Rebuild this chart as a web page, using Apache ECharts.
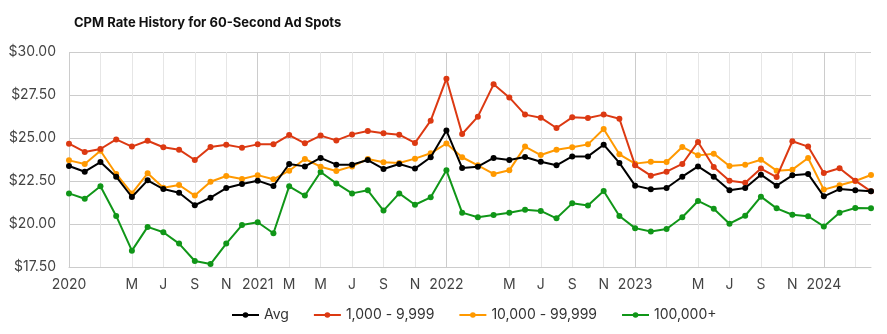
<!DOCTYPE html>
<html>
<head>
<meta charset="utf-8">
<script src="https://cdn.jsdelivr.net/npm/echarts@6/dist/echarts.min.js"></script>
<style>
html,body{margin:0;padding:0;background:#fff;}
#chart{width:887px;height:334px;}
</style>
</head>
<body>
<div id="chart"></div>
<script>
const categories = [
 '2020-01','2020-02','2020-03','2020-04','2020-05','2020-06','2020-07','2020-08','2020-09','2020-10','2020-11','2020-12',
 '2021-01','2021-02','2021-03','2021-04','2021-05','2021-06','2021-07','2021-08','2021-09','2021-10','2021-11','2021-12',
 '2022-01','2022-02','2022-03','2022-04','2022-05','2022-06','2022-07','2022-08','2022-09','2022-10','2022-11','2022-12',
 '2023-01','2023-02','2023-03','2023-04','2023-05','2023-06','2023-07','2023-08','2023-09','2023-10','2023-11','2023-12',
 '2024-01','2024-02','2024-03','2024-04'
];
const tickLabels = [
 '2020','','','','M','','J','','S','','N','',
 '2021','','M','','M','','J','','S','','N','',
 '2022','','','','M','','J','','S','','N','',
 '2023','','','','M','','J','','S','','N','',
 '2024','','','',''
];
const avg = [23.37,23.04,23.60,22.75,21.57,22.54,22.03,21.82,21.09,21.53,22.09,22.33,
 22.52,22.21,23.49,23.35,23.84,23.45,23.45,23.72,23.20,23.49,23.22,23.88,
 25.43,23.26,23.33,23.84,23.72,23.90,23.62,23.41,23.93,23.93,24.61,23.55,
 22.23,22.02,22.09,22.75,23.35,22.75,21.96,22.09,22.87,22.23,22.83,22.91,
 21.61,22.03,21.96,21.90];
const tier1k = [24.67,24.19,24.36,24.92,24.50,24.84,24.46,24.32,23.72,24.48,24.61,24.44,
 24.63,24.63,25.17,24.69,25.14,24.86,25.21,25.41,25.27,25.19,24.71,26.01,
 28.45,25.23,26.24,28.12,27.36,26.36,26.18,25.58,26.20,26.16,26.36,26.12,
 23.41,22.81,23.04,23.49,24.77,23.31,22.52,22.40,23.22,22.73,24.81,24.50,
 22.97,23.24,22.52,21.90];
const tier10k = [23.70,23.49,24.26,22.91,21.78,22.95,22.11,22.27,21.65,22.46,22.79,22.62,
 22.84,22.60,23.10,23.78,23.33,23.08,23.35,23.78,23.59,23.55,23.80,24.11,
 24.68,23.88,23.41,22.91,23.12,24.50,24.01,24.32,24.46,24.63,25.52,24.05,
 23.51,23.62,23.60,24.48,23.99,24.09,23.37,23.45,23.74,23.10,23.16,23.84,
 22.00,22.25,22.50,22.85];
const tier100k = [21.78,21.47,22.19,20.47,18.45,19.83,19.52,18.86,17.85,17.67,18.86,19.94,
 20.10,19.46,22.19,21.65,23.02,22.36,21.78,21.96,20.78,21.78,21.12,21.55,
 23.12,20.66,20.39,20.52,20.66,20.83,20.76,20.33,21.20,21.07,21.92,20.47,
 19.76,19.56,19.71,20.39,21.34,20.89,20.02,20.48,21.59,20.91,20.54,20.45,
 19.86,20.66,20.93,20.91];
const seriesNames = ['Avg','1,000 - 9,999','10,000 - 99,999','100,000+'];
const seriesColors = ['#000000','#dc3912','#ff9900','#109618'];
const seriesData = [avg, tier1k, tier10k, tier100k];

const chart = echarts.init(document.getElementById('chart'), null, {renderer:'canvas'});
const FONT = 'Inter, "Noto Sans", sans-serif';
chart.setOption({
  animation:false,
  title:{
    text:'CPM Rate History for 60-Second Ad Spots',
    left:69, top:12,
    textStyle:{fontFamily:FONT, fontSize:13, fontWeight:'bold', color:'#111'}
  },
  legend:{
    bottom:7, left:226,
    itemWidth:27, itemHeight:7, itemGap:24,
    textStyle:{fontFamily:FONT, fontSize:14, color:'#333'},
    data:seriesNames
  },
  grid:{left:69, right:16, top:52, bottom:67, containLabel:false},
  xAxis:{
    type:'category', data:categories, boundaryGap:false,
    axisLine:{show:true, lineStyle:{color:'#cccccc'}},
    axisTick:{show:false},
    axisLabel:{interval:0, margin:11, fontFamily:FONT, fontSize:14, color:'#444',
      formatter:(v,i)=>tickLabels[i]},
    splitLine:{show:true, interval:(i)=>i%2===0,
      lineStyle:{color:['#cccccc','#e6e6e6','#e6e6e6','#e6e6e6','#e6e6e6','#e6e6e6'], width:1}}
  },
  yAxis:{
    type:'value', min:17.5, max:30, interval:2.5,
    axisLine:{show:false}, axisTick:{show:false},
    axisLabel:{margin:13, fontFamily:FONT, fontSize:14, color:'#444',
      formatter:(v)=>'$'+v.toFixed(2)},
    splitLine:{lineStyle:{color:'#cccccc'}}
  },
  series: seriesNames.map((n,k)=>({
    name:n, type:'line', data:seriesData[k],
    color:seriesColors[k],
    symbol:'circle', symbolSize:6, showSymbol:true,
    lineStyle:{width:2},
    z: 10-k
  }))
});
</script>
</body>
</html>
